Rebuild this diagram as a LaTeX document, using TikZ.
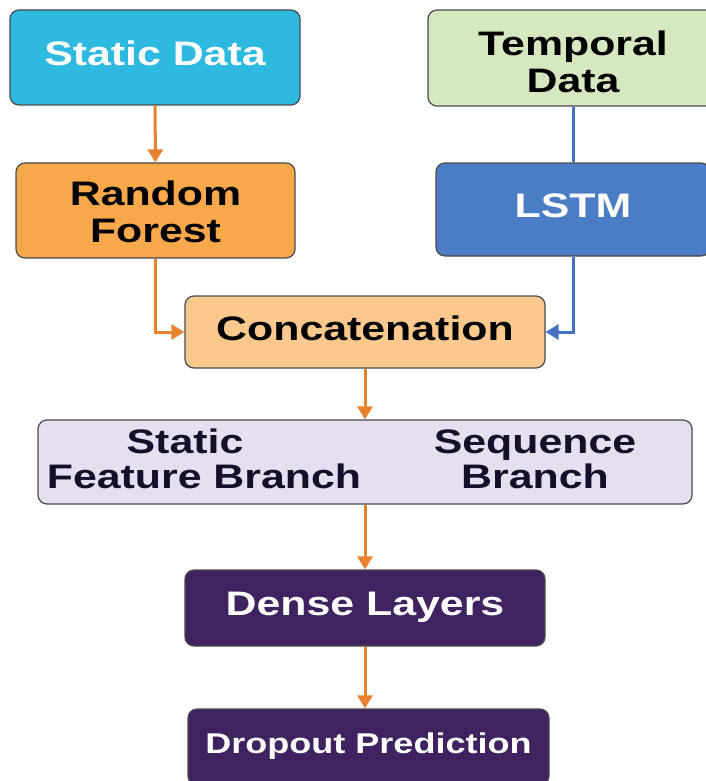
\documentclass[tikz,border=0pt]{standalone}
\usepackage{fontspec}
\setmainfont{Liberation Sans}
\newfontfamily\boxface{Liberation Sans Bold}[FakeStretch=1.26]
\usetikzlibrary{arrows.meta}
\definecolor{cyanbox}{HTML}{2DB9E0}
\definecolor{greenbox}{HTML}{D5E8C0}
\definecolor{orangebox}{HTML}{F6A84A}
\definecolor{bluebox}{HTML}{4A7DC5}
\definecolor{peachbox}{HTML}{FBC98E}
\definecolor{lavbox}{HTML}{E6DFF0}
\definecolor{purplebox}{HTML}{3E2360}
\definecolor{edgegray}{HTML}{4A4A4A}
\definecolor{flowor}{HTML}{E8822E}
\definecolor{flowbl}{HTML}{4472C4}
\definecolor{inkdark}{HTML}{160F2A}
\newcommand{\tallstrut}[1]{\rule{0pt}{#1}}
\tikzset{
  box/.style={draw=edgegray, line width=1.2pt, rounded corners=9pt, align=center,
    inner sep=0pt, font=\boxface\fontsize{34}{37}\selectfont},
  oneline/.style={text depth=8pt},
  label text/.style={align=center, text=inkdark, inner sep=0pt, text depth=6pt,
    font=\boxface\fontsize{34}{35}\selectfont},
  oarrow/.style={draw=flowor, line width=3pt, -{Triangle[width=15pt,length=13pt]}},
  barrow/.style={draw=flowbl, line width=3pt, -{Triangle[width=15pt,length=13pt]}},
  bline/.style={draw=flowbl, line width=3pt},
}
\begin{document}
\begin{tikzpicture}[x=1pt,y=-1pt]
\fill[white] (0,0) rectangle (706,781);
\useasboundingbox (0,0) rectangle (706,781);
\begin{scope}
\clip (0,0) rectangle (706,781);
% input boxes
\node[box, oneline, fill=cyanbox, text=white, minimum width=290pt, minimum height=95pt] (sd) at (155,57.5) {Static Data};
\node[box, fill=greenbox, text=black, minimum width=290pt, minimum height=96pt] (td) at (573,58) {\tallstrut{33pt}Temporal\\Data};
% feature extractors
\node[box, fill=orangebox, text=black, minimum width=279pt, minimum height=95pt] (rf) at (155.5,210.5) {\tallstrut{28pt}Random\\Forest};
\node[box, oneline, fill=bluebox, text=white, minimum width=274pt, minimum height=93pt] (lstm) at (573,209.5) {LSTM};
% fusion
\node[box, oneline, fill=peachbox, text=black, minimum width=360pt, minimum height=72pt] (cat) at (365,332) {Concatenation};
\node[box, fill=lavbox, minimum width=654pt, minimum height=84pt] (branch) at (365,462) {};
\node[label text] (stat) at (204,462) {Static\hspace*{38pt}\\Feature Branch};
\node[label text] (seq) at (535,462) {Sequence\\Branch};
% head
\node[box, oneline, fill=purplebox, text=white, minimum width=360pt, minimum height=76pt] (dense) at (365,608) {Dense Layers};
\node[box, oneline, fill=purplebox, text=white, minimum width=361pt, minimum height=76pt,
  font=\boxface\fontsize{28.6}{34}\selectfont] (drop) at (368.5,747) {Dropout Prediction};
% connectors
\draw[oarrow] (sd) -- (rf);
\draw[oarrow] (rf.south) |- (cat.west);
\draw[bline] (td) -- (lstm);
\draw[barrow] (lstm.south) |- (cat.east);
\draw[oarrow] (cat) -- (branch);
\draw[oarrow] (branch) -- (dense);
\draw[oarrow] (dense.south) -- (dense.south |- drop.north);
\end{scope}
\end{tikzpicture}
\end{document}
